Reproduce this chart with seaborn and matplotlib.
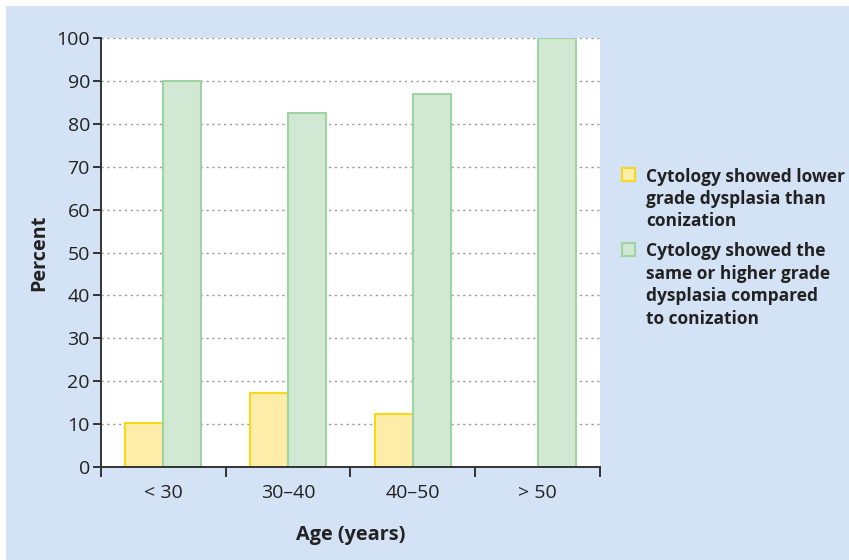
import matplotlib
matplotlib.use("Agg")
import matplotlib.pyplot as plt
from matplotlib.patches import Rectangle
import seaborn as sns
import pandas as pd

categories = ["< 30", "30–40", "40–50", "> 50"]
lower_grade = [10.2, 17.2, 12.4, 0.0]
same_or_higher = [90.0, 82.5, 87.0, 100.0]
series_names = [
    "Cytology showed lower\ngrade dysplasia than\nconization",
    "Cytology showed the\nsame or higher grade\ndysplasia compared\nto conization",
]
y_ticks = [0, 10, 20, 30, 40, 50, 60, 70, 80, 90, 100]

df = pd.DataFrame({
    "Age": categories * 2,
    "Percent": lower_grade + same_or_higher,
    "Series": [series_names[0]] * 4 + [series_names[1]] * 4,
})

sns.set_theme(style="white")
plt.rcParams["font.family"] = ["Open Sans", "DejaVu Sans"]

fill_colors = ["#feeda8", "#d1e8d2"]
edge_colors = ["#f8d81a", "#9fd3a2"]
bg = "#d3e2f4"
dark = "#333333"
text_c = "#222222"

W, H = 849, 560
fig = plt.figure(figsize=(W / 100, H / 100), dpi=100)
fig.patch.set_facecolor("white")
fig.patches.append(Rectangle((6 / W, 0), 1 - 6 / W, 1 - 6 / H,
                             transform=fig.transFigure, facecolor=bg,
                             edgecolor="none", zorder=-10))

ax = fig.add_axes([101 / W, 1 - 467 / H, 499 / W, 429 / H])
ax.set_facecolor("white")

sns.barplot(data=df, x="Age", y="Percent", hue="Series", order=categories,
            hue_order=series_names, palette=fill_colors, saturation=1,
            width=0.61, ax=ax, legend=False, zorder=2)

for cont, ec in zip(ax.containers, edge_colors):
    for bar in cont:
        bar.set_edgecolor(ec)
        bar.set_linewidth(1.5)

ax.set_xlim(-0.5, 3.5)
ax.set_ylim(0, 100)
ax.set_yticks(y_ticks)
ax.yaxis.grid(True, color="#9a9a9a", linestyle=(0, (1.6, 2.6)), linewidth=1.0, zorder=0)
ax.set_axisbelow(True)

ax.set_xticks([-0.5, 0.5, 1.5, 2.5, 3.5])
ax.set_xticklabels([])
ax.set_xticks([0, 1, 2, 3], minor=True)
ax.set_xticklabels(categories, minor=True, fontsize=14, color=text_c)
ax.tick_params(axis="x", which="major", direction="out", length=7, width=1.4, color=dark, bottom=True)
ax.tick_params(axis="x", which="minor", length=0, pad=12)
ax.tick_params(axis="y", direction="out", length=6, width=1.4, color=dark, left=True,
               labelsize=14, labelcolor=text_c, pad=2)

for s in ["top", "right"]:
    ax.spines[s].set_visible(False)
for s in ["left", "bottom"]:
    ax.spines[s].set_color(dark)
    ax.spines[s].set_linewidth(1.4)
    ax.spines[s].set_zorder(5)

ax.set_xlabel("Age (years)", fontsize=14.3, fontweight="bold", color=text_c, labelpad=17)
ax.set_ylabel("Percent", fontsize=14.3, fontweight="bold", color=text_c, labelpad=5)

# legend drawn by hand so the swatch sits at the first text line
swatch_tops = [168, 243]
baselines = [181.5, 256.5]
line_step = 22.4
for name, fc, ec, top, base in zip(series_names, fill_colors, edge_colors, swatch_tops, baselines):
    fig.patches.append(Rectangle((622 / W, 1 - (top + 13) / H), 13 / W, 13 / H,
                                 transform=fig.transFigure, facecolor=fc,
                                 edgecolor=ec, linewidth=1.5, zorder=5))
    for i, line in enumerate(name.split("\n")):
        fig.text(646 / W, 1 - (base + i * line_step) / H, line, fontsize=12.5,
                 fontweight="bold", color=text_c, va="baseline", ha="left")

fig.savefig("out.png", dpi=100, facecolor=fig.get_facecolor())
